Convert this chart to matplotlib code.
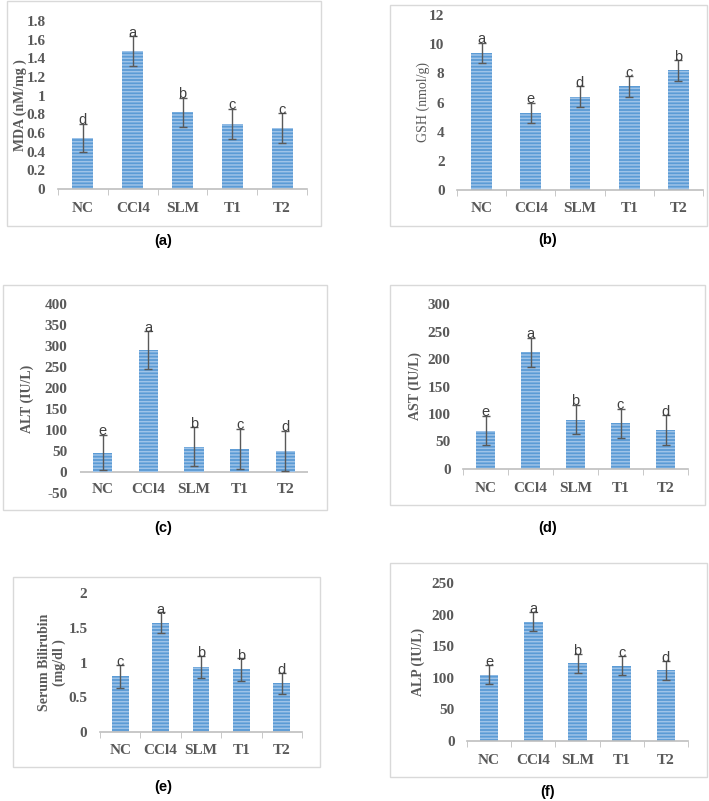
import matplotlib
matplotlib.use('Agg')
import matplotlib.pyplot as plt
from matplotlib.patches import Rectangle
import numpy as np

W, H = 709, 801

groups = ['NC', 'CCl4', 'SLM', 'T1', 'T2']

mda      = [0.55, 1.48, 0.82, 0.70, 0.65]
mda_err  = [0.15, 0.16, 0.16, 0.16, 0.16]
mda_sig  = ['d', 'a', 'b', 'c', 'c']

gsh      = [9.4, 5.3, 6.4, 7.1, 8.2]
gsh_err  = [0.7, 0.7, 0.7, 0.7, 0.7]
gsh_sig  = ['a', 'e', 'd', 'c', 'b']

alt      = [46, 290, 60, 55, 50]
alt_err  = [42, 45, 46, 47, 47]
alt_sig  = ['e', 'a', 'b', 'c', 'd']

ast      = [70, 212, 90, 83, 71]
ast_err  = [27, 27, 27, 27, 27]
ast_sig  = ['e', 'a', 'b', 'c', 'd']

bil      = [0.80, 1.57, 0.93, 0.90, 0.70]
bil_err  = [0.16, 0.15, 0.16, 0.16, 0.15]
bil_sig  = ['c', 'a', 'b', 'b', 'd']

alp      = [105, 189, 123, 119, 112]
alp_err  = [15, 15, 15, 15, 15]
alp_sig  = ['e', 'a', 'b', 'c', 'd']

BAR    = '#5b9bd5'
STRIPE = '#9ec3e8'
GRAY   = '#595959'

plt.rcParams['hatch.linewidth'] = 1.1

fig = plt.figure(figsize=(W / 100, H / 100), dpi=100)


def px_rect(x0, y0, x1, y1):
    return [x0 / W, 1 - y1 / H, (x1 - x0) / W, (y1 - y0) / H]


def panel(box, border, tag, tag_xy, vals, errs, sig, ylim, step, ylabel,
          lab_x, lab_bold=True, zero_line=False):
    # light frame like the excel chart area
    fig.patches.append(Rectangle((border[0] / W, 1 - border[3] / H),
                                 (border[2] - border[0]) / W,
                                 (border[3] - border[1]) / H,
                                 transform=fig.transFigure, fill=False,
                                 edgecolor='#d9d9d9', lw=1))
    fig.text(tag_xy[0] / W, 1 - tag_xy[1] / H, tag, ha='center', va='center',
             fontsize=10.5, fontweight='bold', family='Liberation Sans')

    ax = fig.add_axes(px_rect(*box))
    x = np.arange(len(groups))
    ax.bar(x, vals, width=0.42, color=BAR, edgecolor='none', zorder=2)
    ax.bar(x, vals, width=0.42, color='none', edgecolor=STRIPE, hatch='-----',
           lw=0, zorder=2)
    ax.errorbar(x, vals, yerr=errs, fmt='none', ecolor=GRAY, elinewidth=1,
                capsize=3, capthick=1, zorder=3)
    rng = ylim[1] - ylim[0]
    for xi, v, e, s in zip(x, vals, errs, sig):
        ax.text(xi, v + e + 0.02 * rng, s, ha='center', va='center',
                fontsize=10.5, color='#404040', family='Liberation Sans')

    ax.set_xlim(-0.5, 4.5)
    ax.set_ylim(*ylim)
    ax.set_yticks(np.arange(ylim[0], ylim[1] + step / 2, step))
    ax.yaxis.set_major_formatter(matplotlib.ticker.FuncFormatter(
        lambda v, p: f'{v:g}'))
    ax.set_xticks(x)
    ax.set_xticklabels(groups)
    ax.tick_params(axis='y', length=0, pad=9)
    for sp in ['top', 'right', 'left']:
        ax.spines[sp].set_visible(False)
    if zero_line:
        # category labels sit at the bottom, level with the lowest tick
        ax.spines['bottom'].set_visible(False)
        ax.axhline(0, color='#bfbfbf', lw=1.2, zorder=1)
        ax.tick_params(axis='x', which='major', length=0, pad=-7)
    else:
        ax.set_xticks(np.arange(-0.5, 5, 1), minor=True)
        ax.tick_params(axis='x', which='major', length=0, pad=9)
        ax.tick_params(axis='x', which='minor', length=4, color='#bfbfbf')
        ax.spines['bottom'].set_color('#bfbfbf')
        ax.spines['bottom'].set_linewidth(1.2)
    for lbl in ax.get_xticklabels() + ax.get_yticklabels():
        lbl.set_family('Liberation Serif')
        lbl.set_fontweight('bold')
        lbl.set_fontsize(11)
        lbl.set_color(GRAY)
    ax.set_ylabel(ylabel, family='Liberation Serif', fontsize=10,
                  fontweight='bold' if lab_bold else 'normal', color=GRAY,
                  linespacing=1.1)
    ax.yaxis.set_label_coords(lab_x, 0.5)
    return ax


panel((58, 21, 307, 189), (7, 1, 321, 226), '(a)', (163, 241),
      mda, mda_err, mda_sig, (0, 1.8), 0.2, 'MDA (nM/mg )', -0.125)
panel((457, 15, 703, 190), (390, 5, 707, 226), '(b)', (548, 240),
      gsh, gsh_err, gsh_sig, (0, 12), 2, 'GSH (nmol/g)', -0.11, lab_bold=False)
panel((80, 304, 308, 493), (3, 285, 327, 510), '(c)', (163, 528),
      alt, alt_err, alt_sig, (-50, 400), 50, 'ALT (IU/L)', -0.20, zero_line=True)
panel((463, 304, 688, 469), (390, 285, 705, 505), '(d)', (548, 528),
      ast, ast_err, ast_sig, (0, 300), 50, 'AST (IU/L)', -0.18)
panel((100, 593, 302, 732), (13, 577, 320, 767), '(e)', (163, 787),
      bil, bil_err, bil_sig, (0, 2), 0.5, 'Serum Bilirubin\n(mg/dl )', -0.17)
panel((467, 583, 688, 741), (390, 563, 707, 777), '(f)', (548, 792),
      alp, alp_err, alp_sig, (0, 250), 50, 'ALP (IU/L)', -0.19)

plt.savefig('out.png', dpi=100)
